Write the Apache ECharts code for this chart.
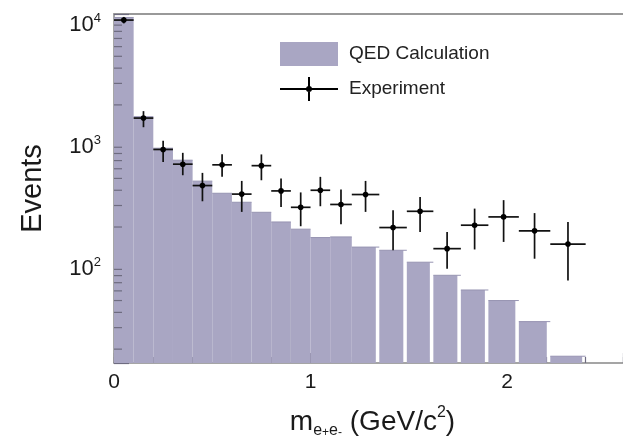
<!DOCTYPE html>
<html>
<head>
<meta charset="utf-8">
<script src="https://cdn.jsdelivr.net/npm/echarts@6/dist/echarts.min.js"></script>
<style>
html,body{margin:0;padding:0;background:#fff;}
#c{width:623px;height:436px;}
</style>
</head>
<body>
<div id="c"></div>
<script>
// ---- data ----
const binEdges = [0, 0.1, 0.2, 0.3, 0.4, 0.5, 0.6, 0.7, 0.8, 0.9, 1.0, 1.1, 1.21, 1.35, 1.49, 1.625, 1.765, 1.905, 2.06, 2.22, 2.4];
const qedCounts = [10400, 1600, 884, 705, 475, 378, 319, 264, 220, 192, 164, 166, 137, 129, 103, 80.5, 61, 50, 33.6, 17.5];
const expCounts = [9900, 1560, 863, 654, 437, 646, 372, 636, 395, 290, 400, 306, 369, 198, 269, 133, 207, 242, 186, 145];
const expLow  = [9300, 1313, 682, 531, 325, 515, 266, 483, 292, 203, 296, 211, 266, 129, 182, 91, 131, 151, 110, 73];
const expHigh = [10500, 1778, 1017, 810, 555, 790, 477, 786, 500, 384, 515, 406, 477, 275, 352, 182, 283, 332, 260, 220];
const yMinorTicks = [20, 30, 40, 50, 60, 70, 80, 90, 200, 300, 400, 500, 600, 700, 800, 900, 2000, 3000, 4000, 5000, 6000, 7000, 8000, 9000];
const legendNames = ['QED Calculation', 'Experiment'];

// ---- axis ranges ----
const X_MIN = 0, X_MAX = 2.59;
const Y_MIN = 15.4, Y_MAX = 11100;

const FONT = '"Liberation Sans", Arial, Helvetica, sans-serif';
const FILL = '#a9a6c3';
const TEXT = '#1a1a1a';

const qedData = qedCounts.map((v, i) => [binEdges[i], binEdges[i + 1], v]);
const expData = expCounts.map((v, i) => [(binEdges[i] + binEdges[i + 1]) / 2, v, binEdges[i], binEdges[i + 1], expLow[i], expHigh[i]]);
const minorData = yMinorTicks.map(v => [X_MIN, v]);

const chart = echarts.init(document.getElementById('c'), null, {renderer: 'canvas'});

function isPow10(v) {
  const l = Math.log10(v);
  return Math.abs(l - Math.round(l)) < 1e-6;
}

const option = {
  animation: false,
  backgroundColor: '#fff',
  grid: {left: 114, right: 0, top: 14, bottom: 73, containLabel: false, outerBoundsMode: 'none'},
  legend: {
    orient: 'vertical', left: 275, top: 37,
    itemWidth: 58, itemHeight: 24, itemGap: 11,
    textStyle: {fontSize: 19, color: '#222', fontFamily: FONT, padding: [0, 0, 0, 6]},
    data: [
      {name: legendNames[0], icon: 'rect'},
      {name: legendNames[1], icon: 'path://M0,11L58,11L58,13L0,13Z M28,0L30,0L30,24L28,24Z M32,12A3,3,0,1,1,26,12A3,3,0,1,1,32,12Z'}
    ]
  },
  xAxis: [
    {
      type: 'value', min: X_MIN, max: X_MAX, interval: 1, position: 'bottom',
      axisLine: {show: true, lineStyle: {color: '#888', width: 1.5}},
      axisTick: {show: true, inside: true, length: 10, lineStyle: {color: '#6e6c80', width: 1.2}},
      splitLine: {show: false},
      axisLabel: {
        fontSize: 21, color: TEXT, fontFamily: FONT, margin: 9,
        formatter: v => (Math.abs(v - Math.round(v)) < 1e-9 ? String(Math.round(v)) : '')
      },
      name: '{m|m}{s|e}{t|+}{s|e}{t|-}{m| (GeV/c}{p|2}{m|)}',
      nameLocation: 'middle', nameGap: 42,
      nameTextStyle: {
        color: TEXT, fontFamily: FONT, padding: [0, 0, 0, 8],
        rich: {
          m: {fontSize: 28, lineHeight: 34, fontFamily: FONT, color: TEXT},
          s: {fontSize: 16, lineHeight: 14, verticalAlign: 'bottom', fontFamily: FONT, color: TEXT},
          t: {fontSize: 12, lineHeight: 26, verticalAlign: 'bottom', fontFamily: FONT, color: TEXT},
          p: {fontSize: 16, lineHeight: 16, verticalAlign: 'top', fontFamily: FONT, color: TEXT}
        }
      }
    },
    {
      type: 'value', min: X_MIN, max: X_MAX, interval: 0.2, position: 'bottom',
      axisLine: {show: false},
      axisTick: {show: true, inside: true, length: 6, lineStyle: {color: '#6e6c80', width: 1.2}},
      axisLabel: {show: false}, splitLine: {show: false}
    },
    {
      type: 'value', min: X_MIN, max: X_MAX, position: 'top',
      axisLine: {show: true, lineStyle: {color: '#999', width: 2}},
      axisTick: {show: false}, axisLabel: {show: false}, splitLine: {show: false}
    }
  ],
  yAxis: {
    type: 'log', logBase: 10, min: Y_MIN, max: Y_MAX,
    axisLine: {show: true, lineStyle: {color: '#888', width: 1.5}},
    axisTick: {show: true, inside: true, length: 15, lineStyle: {color: '#6e6c80', width: 1.2}},
    splitLine: {show: false},
    axisLabel: {
      margin: 13, color: TEXT, fontFamily: FONT, padding: [10, 0, 0, 0],
      formatter: v => isPow10(v) ? '{b|10}{e|' + Math.round(Math.log10(v)) + '}' : '',
      rich: {
        b: {fontSize: 22, lineHeight: 26, fontFamily: FONT, color: TEXT},
        e: {fontSize: 13, lineHeight: 14, verticalAlign: 'top', fontFamily: FONT, color: TEXT}
      }
    },
    name: 'Events', nameLocation: 'middle', nameRotate: 90, nameGap: 67,
    nameTextStyle: {fontSize: 29, color: TEXT, fontFamily: FONT}
  },
  series: [
    {
      name: legendNames[0], type: 'custom', xAxisIndex: 0, yAxisIndex: 0,
      itemStyle: {color: FILL},
      data: qedData,
      renderItem: function (params, api) {
        const x0 = api.value(0), x1 = api.value(1), v = api.value(2);
        const cs = params.coordSys;
        const pL = api.coord([x0, v]);
        const pR = api.coord([x1, v]);
        const bottom = cs.y + cs.height;
        const gap = x0 >= 1.2 ? 3.5 : 0;
        return {
          type: 'group',
          children: [
            {type: 'rect', shape: {x: pL[0], y: pL[1], width: pR[0] - pL[0] - gap, height: bottom - pL[1]}, style: {fill: FILL}},
            {type: 'line', shape: {x1: pL[0], y1: pL[1], x2: pR[0], y2: pL[1]}, style: {stroke: '#9794b2', lineWidth: 1}}
          ]
        };
      }
    },
    {
      name: 'yMinorTicks', type: 'custom', silent: true, xAxisIndex: 0, yAxisIndex: 0,
      data: minorData, z: 5,
      renderItem: function (params, api) {
        const p = api.coord([api.value(0), api.value(1)]);
        return {type: 'line', shape: {x1: p[0], y1: p[1], x2: p[0] + 8, y2: p[1]}, style: {stroke: '#6e6c80', lineWidth: 1.2}};
      }
    },
    {
      name: legendNames[1], type: 'custom', xAxisIndex: 0, yAxisIndex: 0, z: 10,
      itemStyle: {color: '#000'},
      data: expData,
      renderItem: function (params, api) {
        const xc = api.value(0), v = api.value(1);
        const c = api.coord([xc, v]);
        const l = api.coord([api.value(2), v]);
        const r = api.coord([api.value(3), v]);
        const lo = api.coord([xc, api.value(4)]);
        const hi = api.coord([xc, api.value(5)]);
        const st = {stroke: '#111', lineWidth: 1.7};
        return {
          type: 'group',
          children: [
            {type: 'line', shape: {x1: l[0], y1: c[1], x2: r[0], y2: c[1]}, style: st},
            {type: 'line', shape: {x1: c[0], y1: hi[1], x2: c[0], y2: lo[1]}, style: st},
            {type: 'circle', shape: {cx: c[0], cy: c[1], r: 2.8}, style: {fill: '#000'}}
          ]
        };
      }
    }
  ]
};
chart.setOption(option);
</script>
</body>
</html>
